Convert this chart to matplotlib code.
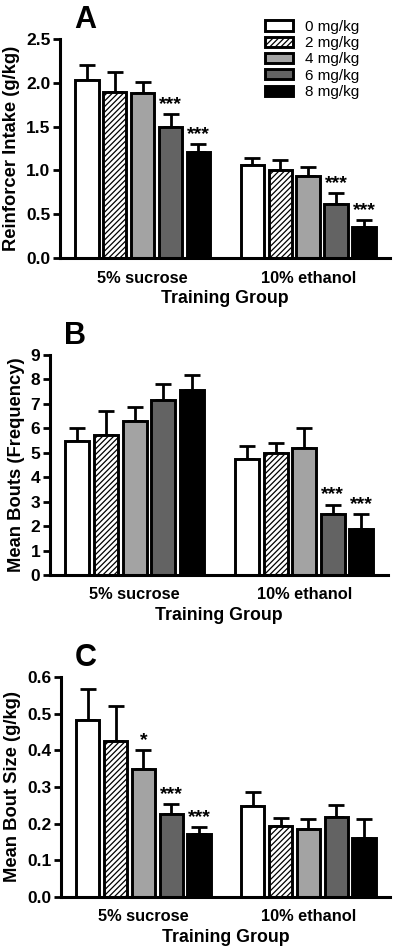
import numpy as np
import matplotlib
matplotlib.use("Agg")
import matplotlib.pyplot as plt

plt.rcParams['font.family'] = ['Liberation Sans', 'DejaVu Sans']
plt.rcParams['font.weight'] = 'bold'
plt.rcParams['hatch.linewidth'] = 0.9

groups = ["5% sucrose", "10% ethanol"]
doses = ["0 mg/kg", "2 mg/kg", "4 mg/kg", "6 mg/kg", "8 mg/kg"]

# panel A - reinforcer intake
intake_mean = [[2.03, 1.90, 1.88, 1.49, 1.21], [1.06, 1.01, 0.94, 0.62, 0.35]]
intake_sem = [[0.17, 0.22, 0.13, 0.15, 0.09], [0.08, 0.11, 0.10, 0.12, 0.08]]
intake_stars = [["", "", "", "***", "***"], ["", "", "", "***", "***"]]

# panel B - number of bouts
bouts_mean = [[5.50, 5.72, 6.30, 7.15, 7.57], [4.73, 5.00, 5.20, 2.50, 1.90]]
bouts_sem = [[0.52, 0.98, 0.58, 0.68, 0.60], [0.55, 0.42, 0.83, 0.38, 0.60]]
bouts_stars = [["", "", "", "", ""], ["", "", "", "***", "***"]]

# panel C - bout size
size_mean = [[0.482, 0.425, 0.348, 0.227, 0.172], [0.248, 0.193, 0.185, 0.219, 0.160]]
size_sem = [[0.085, 0.097, 0.053, 0.026, 0.018], [0.037, 0.023, 0.027, 0.031, 0.052]]
size_stars = [["", "", "*", "***", "***"], ["", "", "", "", ""]]

face = ["white", "white", "#a3a3a3", "#636363", "black"]
hatches = [None, "//////", None, None, None]
group_offset = 5.93


def draw_panel(ax, means, sems, stars, ylim, yticks, fmt, ylabel, letter, legend=False):
    for g in range(2):
        x = np.arange(5) + g * group_offset
        for i in range(5):
            ax.bar(x[i], means[g][i], width=0.84, color=face[i], edgecolor="black",
                   linewidth=2.1, hatch=hatches[i], zorder=2,
                   label=doses[i] if g == 0 else None)
            ax.errorbar(x[i], means[g][i], yerr=[[0], [sems[g][i]]], fmt="none",
                        ecolor="black", elinewidth=2.0, capsize=6, capthick=2.0, zorder=1)
            if stars[g][i]:
                ax.text(x[i], means[g][i] + sems[g][i] + ylim[1] * 0.005, stars[g][i],
                        ha="center", va="bottom", fontsize=14, fontweight="bold")
    ax.set_xlim(-0.96, 10.86)
    ax.set_ylim(*ylim)
    ax.set_yticks(yticks)
    ax.set_yticklabels([fmt.format(t) for t in yticks], fontsize=12.5, fontweight="bold")
    ax.set_xticks([2, 2 + group_offset])
    ax.set_xticklabels(groups, fontsize=11.8, fontweight="bold")
    ax.tick_params(axis="x", length=0, pad=9)
    ax.tick_params(axis="y", length=5, width=2.0, pad=2)
    for s in ["top", "right"]:
        ax.spines[s].set_visible(False)
    for s in ["left", "bottom"]:
        ax.spines[s].set_linewidth(2.2)
    ax.set_ylabel(ylabel, fontsize=13.2, fontweight="bold", labelpad=4)
    ax.set_xlabel("Training Group", fontsize=12.8, fontweight="bold", labelpad=3)
    ax.text(0.075, 1.02, letter, transform=ax.transAxes, fontsize=22,
            fontweight="bold", ha="center", va="bottom")
    if legend:
        ax.legend(loc="upper right", bbox_to_anchor=(0.925, 1.115), frameon=False,
                  prop={"size": 11, "weight": "normal"}, handlelength=1.85,
                  handleheight=0.65, labelspacing=0.15, handletextpad=0.75,
                  borderaxespad=0)


fig = plt.figure(figsize=(4.0, 9.48), dpi=100)
axA = fig.add_axes([0.15, 0.7278, 0.825, 0.2311])
axB = fig.add_axes([0.125, 0.3935, 0.845, 0.2320])
axC = fig.add_axes([0.1525, 0.0538, 0.8225, 0.2321])

draw_panel(axA, intake_mean, intake_sem, intake_stars, (0, 2.5),
           [0, 0.5, 1.0, 1.5, 2.0, 2.5], "{:.1f}", "Reinforcer Intake (g/kg)", "A", legend=True)
draw_panel(axB, bouts_mean, bouts_sem, bouts_stars, (0, 9),
           list(range(10)), "{:d}", "Mean Bouts (Frequency)", "B")
draw_panel(axC, size_mean, size_sem, size_stars, (0, 0.6),
           [0, 0.1, 0.2, 0.3, 0.4, 0.5, 0.6], "{:.1f}", "Mean Bout Size (g/kg)", "C")

fig.savefig("out.png", dpi=100)
